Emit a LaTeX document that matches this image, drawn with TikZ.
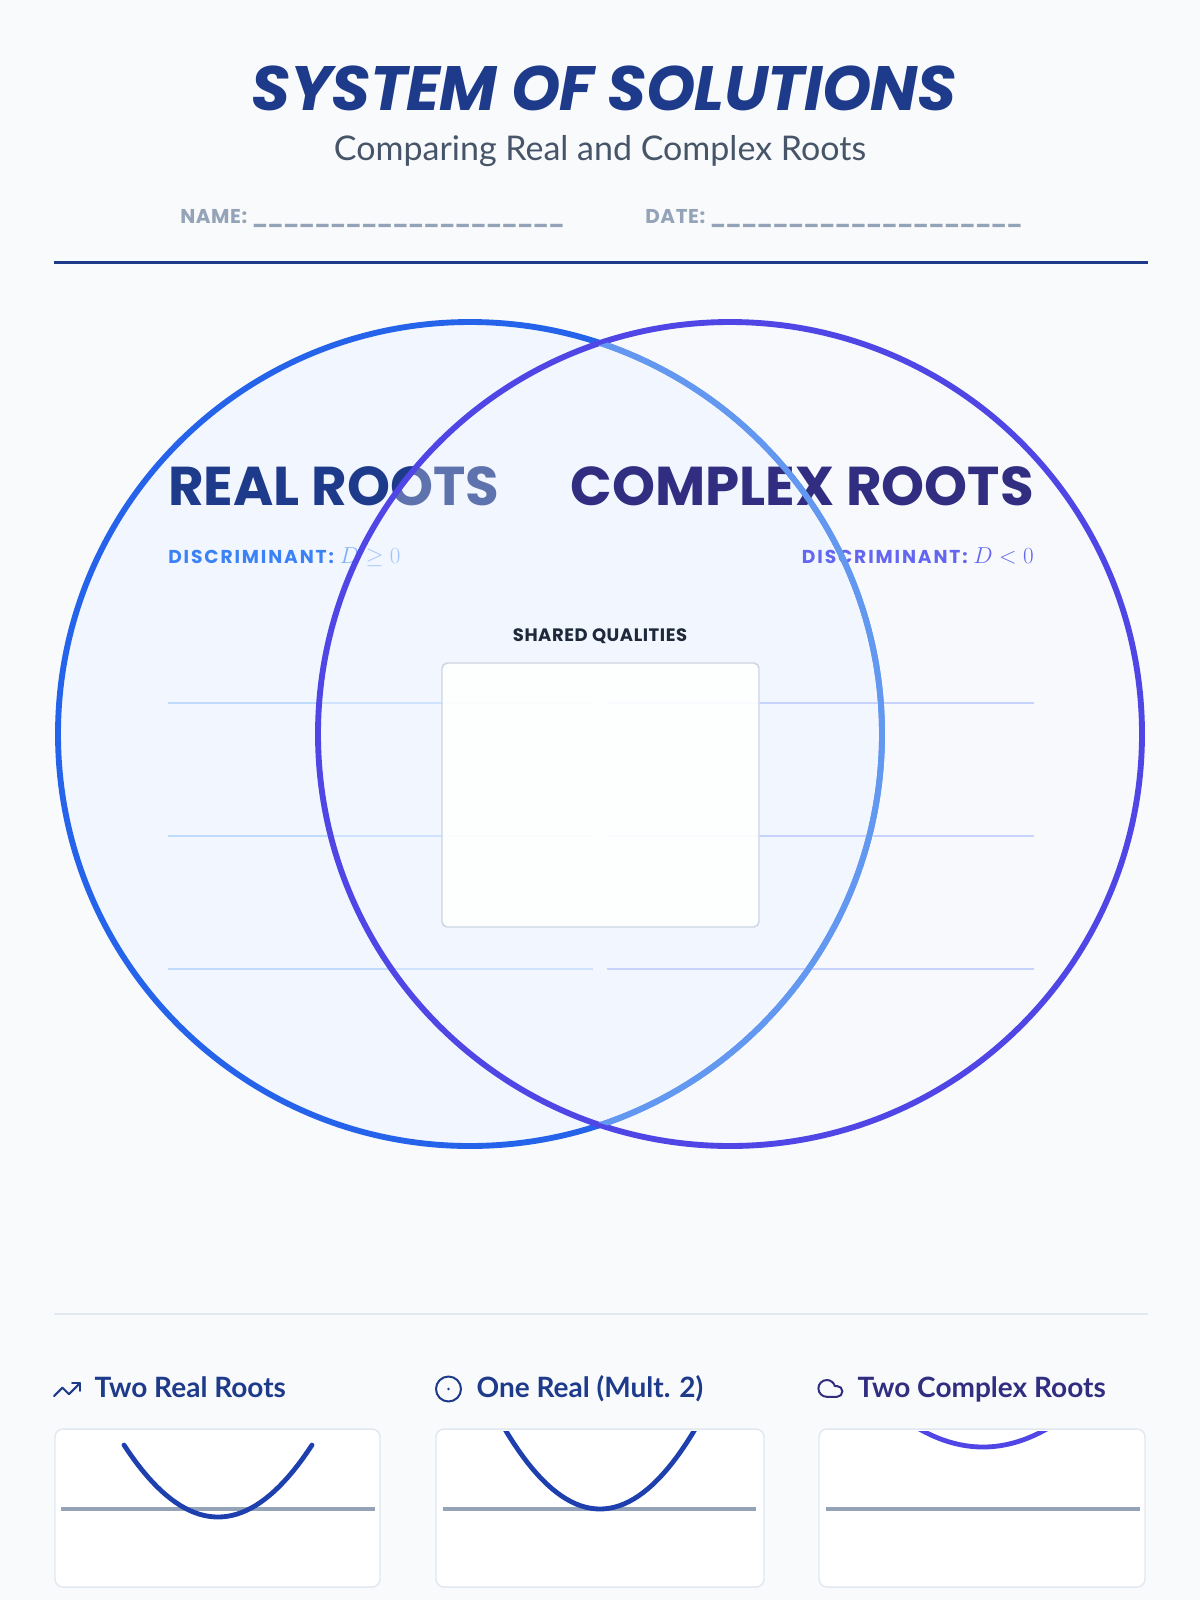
\documentclass[tikz,border=0pt]{standalone}
\usepackage{fontspec}
\usepackage{tikz}
\usepackage{xcolor}
\setmainfont{Lato}
\newfontfamily\headfont{Poppins}
\newfontfamily\titlefont{Poppins}[LetterSpace=-1]
\newfontfamily\capsfont{Poppins}[LetterSpace=10]
\newfontfamily\labelfont{Poppins}[LetterSpace=3]
\definecolor{pagebg}{HTML}{F8FAFC}
\definecolor{navy}{HTML}{1E3A8A}
\definecolor{indigodark}{HTML}{312E81}
\definecolor{slatetext}{HTML}{475569}
\definecolor{slatelight}{HTML}{94A3B8}
\definecolor{realblue}{HTML}{2563EB}
\definecolor{cplxindigo}{HTML}{4F46E5}
\definecolor{reallight}{HTML}{3B82F6}
\definecolor{realmath}{HTML}{7FB0FA}
\definecolor{cplxlight}{HTML}{6366F1}
\definecolor{realline}{HTML}{BFDBFE}
\definecolor{cplxline}{HTML}{C7D2FE}
\definecolor{boxline}{HTML}{CBD5E1}
\definecolor{cardline}{HTML}{E2E8F0}
\definecolor{curveblue}{HTML}{1E40AF}
\definecolor{leftfill}{HTML}{F2F6FE}
\definecolor{rightfill}{HTML}{F5F7FF}
\definecolor{arclight}{HTML}{6398F0}
\definecolor{darktext}{HTML}{1E293B}

\begin{document}
\begin{tikzpicture}[x=0.75pt,y=-0.75pt,
    venn/.style={line width=4.4pt},
    ruled/.style={line width=1.1pt},
    card/.style={draw=cardline,fill=white,line width=1.1pt,rounded corners=6pt},
    curve/.style={line width=3.6pt,line cap=round},
    axisline/.style={draw=slatelight,line width=2.6pt},
    icon/.style={line width=1.5pt,line cap=round,line join=round},
    zonehead/.style={font=\headfont\bfseries\fontsize{41}{45}\selectfont},
    zonesub/.style={font=\capsfont\bfseries\fontsize{14}{17}\selectfont},
    cardhead/.style={anchor=base west,font=\bfseries\fontsize{21}{24}\selectfont}]
    \useasboundingbox (0,0) rectangle (1200,1600);
    \fill[pagebg] (0,0) rectangle (1200,1600);

    % header
    \node[font=\titlefont\bfseries\itshape\fontsize{47}{51}\selectfont, text=navy]
        (title) at (604,88) {SYSTEM OF SOLUTIONS};
    \node[font=\fontsize{25.5}{29}\selectfont, text=slatetext]
        (subtitle) at (600,151) {Comparing Real and Complex Roots};
    \node[anchor=base west, font=\labelfont\bfseries\fontsize{15}{18}\selectfont, text=slatelight, inner sep=0pt]
        (name) at (180,223) {NAME: {\headfont\makebox[234pt]{\xleaders\hbox{\_}\hfill}}};
    \node[anchor=base west, font=\labelfont\bfseries\fontsize{15}{18}\selectfont, text=slatelight, inner sep=0pt]
        (date) at (645,223) {DATE: {\headfont\makebox[234pt]{\xleaders\hbox{\_}\hfill}}};
    \draw[navy, line width=2.25pt] (54,262) -- (1148,262);

    % venn
    \coordinate (lc) at (470,734);
    \coordinate (rc) at (730,734);
    \draw[venn, realblue, fill=leftfill] (lc) circle[radius=412];
    \node[zonehead, anchor=base west, text=navy, inner sep=0pt] (realhead) at (168,505) {REAL ROOTS};
    \node[zonesub, anchor=base west, text=reallight, inner sep=0pt] (realsub) at (168,563)
        {DISCRIMINANT: {\color{realmath}\fontsize{18}{20}\selectfont$D \geq 0$}};
    \foreach \y in {703,836,969}
        \draw[ruled, realline] (168,\y) -- (593,\y);

    \draw[venn, cplxindigo, fill=rightfill, fill opacity=0.3] (rc) circle[radius=412];
    \node[zonehead, anchor=base east, text=indigodark, inner sep=0pt] (cplxhead) at (1034,505) {COMPLEX ROOTS};
    \node[zonesub, anchor=base east, text=cplxlight, inner sep=0pt] (cplxsub) at (1034,563)
        {DISCRIMINANT: {\fontsize{18}{20}\selectfont$D < 0$}};
    \foreach \y in {703,836,969}
        \draw[ruled, cplxline] (607,\y) -- (1034,\y);
    \begin{scope}
        \clip (rc) circle[radius=410];
        \draw[venn, arclight] (lc) circle[radius=412];
    \end{scope}

    % shared
    \node[font=\labelfont\bfseries\fontsize{13.5}{16}\selectfont, text=darktext] (sharedhead) at (600,636) {SHARED QUALITIES};
    \node[draw=boxline, line width=1.1pt, fill=white, fill opacity=0.92, rounded corners=4pt,
        minimum width=237.75pt, minimum height=198pt] (sharedbox) at (600.5,795) {};

    % cases
    \draw[cardline, line width=1.1pt] (54,1314) -- (1148,1314);

    \begin{scope}[shift={(51.4,1374)}, scale=1.3]
        \draw[icon, navy] (22,7) -- (13.5,15.5) -- (8.5,10.5) -- (2,17);
        \draw[icon, navy] (16,7) -- (22,7) -- (22,13);
    \end{scope}
    \node[cardhead, text=navy] (tworeal) at (90,1397) {Two Real Roots};

    \begin{scope}[shift={(433.5,1374)}, scale=1.25]
        \draw[icon, navy] (12,12) circle[radius=10];
        \fill[navy] (12,12) circle[radius=1.1];
    \end{scope}
    \node[cardhead, text=navy] (onereal) at (472,1397) {One Real (Mult. 2)};

    \begin{scope}[shift={(816,1374)}, scale=1.2]
        \draw[icon, indigodark] (17.5,19) -- (9,19) arc[start angle=90, end angle=343.4, radius=7]
            -- (17.5,10) arc[start angle=270, end angle=450, radius=4.5] -- cycle;
    \end{scope}
    \node[cardhead, text=indigodark] (twocplx) at (853,1397) {Two Complex Roots};

    \draw[card] (55,1429) rectangle (380,1587);
    \draw[axisline] (61,1509) -- (375,1509);
    \draw[curve, curveblue] plot[domain=-94:94, samples=41] ({218+\x},{1517-72*(\x/94)^2});

    \draw[card] (436,1429) rectangle (764,1587);
    \draw[axisline] (443,1509) -- (756,1509);
    \begin{scope}
        \clip (436,1431) rectangle (764,1587);
        \draw[curve, curveblue] plot[domain=-96:96, samples=41] ({600+\x},{1509-78*(\x/94)^2});
    \end{scope}

    \draw[card] (819,1429) rectangle (1145,1587);
    \draw[axisline] (826,1509) -- (1140,1509);
    \begin{scope}
        \clip (819,1431) rectangle (1145,1587);
        \draw[curve, cplxindigo] plot[domain=-64:64, samples=41] ({983+\x},{1447-16*(\x/60)^2});
    \end{scope}
\end{tikzpicture}
\end{document}
